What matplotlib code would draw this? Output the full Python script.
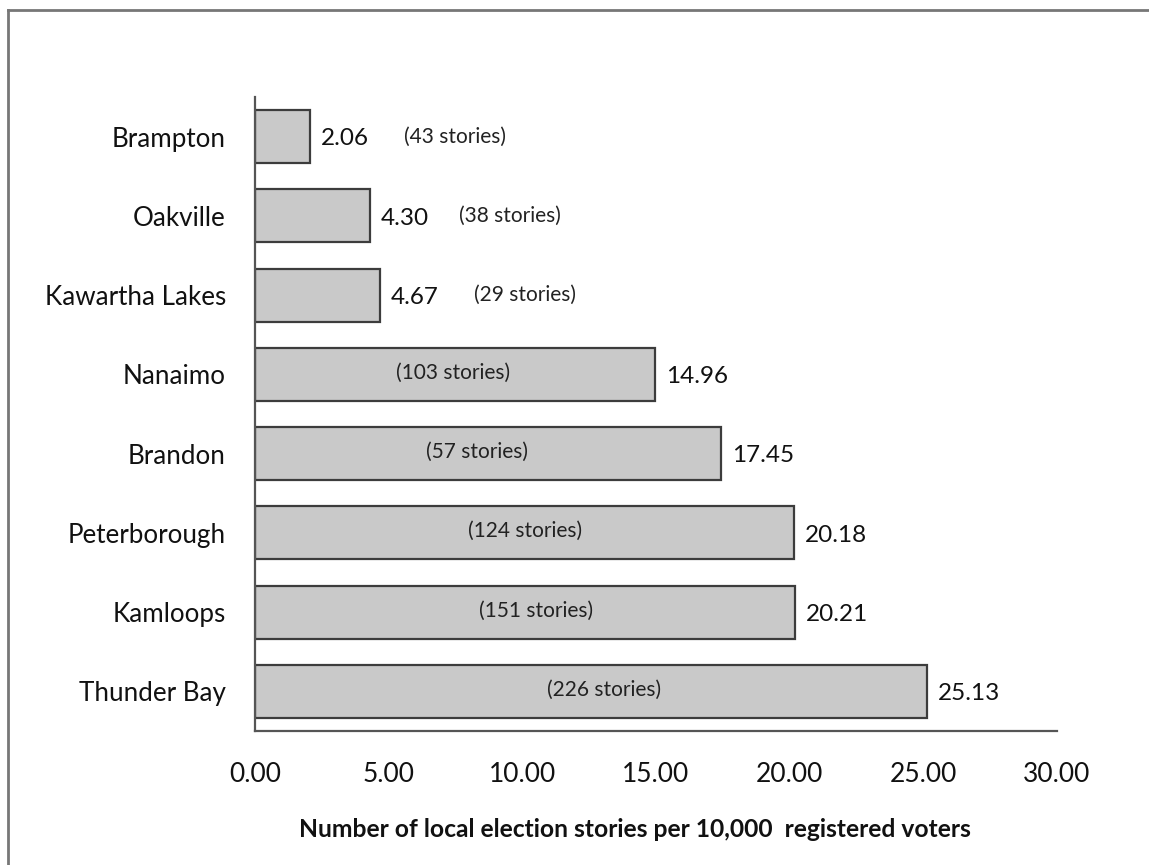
import numpy as np
import matplotlib.pyplot as plt
from matplotlib.lines import Line2D

cities = ['Brampton', 'Oakville', 'Kawartha Lakes', 'Nanaimo', 'Brandon',
          'Peterborough', 'Kamloops', 'Thunder Bay']
stories_per_10k = [2.06, 4.30, 4.67, 14.96, 17.45, 20.18, 20.21, 25.13]
story_counts = [43, 38, 29, 103, 57, 124, 151, 226]
xticks = [0, 5, 10, 15, 20, 25, 30]

# where the "(n stories)" text goes: after the value for short bars, inside for long ones
story_label_x = [7.5, 9.55, 10.1, 7.4, 8.3, 10.1, 10.5, 13.05]
story_inside = [False, False, False, True, True, True, True, True]

plt.rcParams['font.family'] = ['Lato', 'DejaVu Sans']

fig = plt.figure(figsize=[11.49, 8.65], dpi=100)
ax = fig.add_axes([0.2219, 0.1549, 0.698, 0.733])

y = np.arange(len(cities))
ax.barh(y, stories_per_10k, height=0.67, color='#c9c9c9',
        edgecolor='#3c3c3c', linewidth=1.6)

for i, v in enumerate(stories_per_10k):
    ax.text(v + 0.4, y[i] + 0.03, f'{v:.2f}', ha='left', va='center',
            fontsize=17.5, color='#111111')
    ax.text(story_label_x[i], y[i] - 0.02 if story_inside[i] else y[i],
            f'({story_counts[i]} stories)', ha='center', va='center',
            fontsize=15, color='#222222')

ax.set_ylim(7.5, -0.5)
ax.set_xlim(0, 30)
ax.set_yticks(y)
ax.set_yticklabels(cities, fontsize=18.7, color='#111111')
ax.set_xticks(xticks)
ax.set_xticklabels([f'{t:.2f}' for t in xticks], fontsize=19, color='#111111')
ax.tick_params(axis='both', length=0)
ax.tick_params(axis='y', pad=21)
ax.tick_params(axis='x', pad=22)

for side in ['top', 'right']:
    ax.spines[side].set_visible(False)
for side in ['left', 'bottom']:
    ax.spines[side].set_color('#555555')
    ax.spines[side].set_linewidth(1.6)

fig.text(0.553, 0.041, 'Number of local election stories per 10,000  registered voters',
         ha='center', va='center', fontsize=17.7, fontweight='bold', color='#111111')

# frame around the chart (top and left edges)
fig.add_artist(Line2D([8 / 1149, 1.0], [1 - 10 / 865, 1 - 10 / 865],
                      transform=fig.transFigure, color='#777777', linewidth=2))
fig.add_artist(Line2D([8 / 1149, 8 / 1149], [0.0, 1 - 10 / 865],
                      transform=fig.transFigure, color='#777777', linewidth=2))

plt.savefig('out.png', dpi=100)
